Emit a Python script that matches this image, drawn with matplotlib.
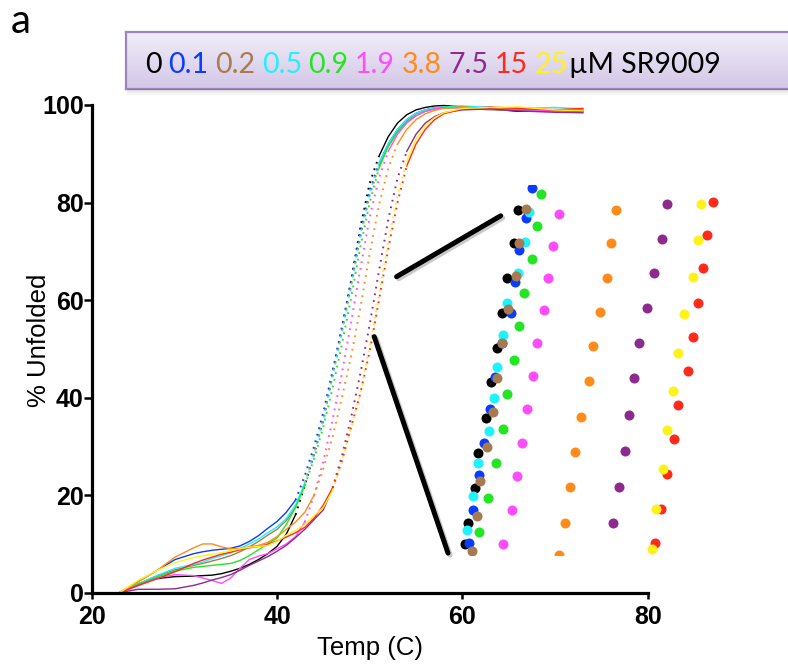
import numpy as np
import matplotlib
matplotlib.use("Agg")
from matplotlib import pyplot as plt
from matplotlib import patheffects
from matplotlib.colors import LinearSegmentedColormap
from matplotlib.patches import ConnectionPatch, Rectangle

# melt curves, % unfolded vs temperature (C)
temps = [23, 25, 27, 29, 31, 32, 33, 34, 35, 36, 37, 38, 39, 40, 41, 42, 43, 44, 45,
         46, 47, 48, 49, 50, 51, 52, 53, 54, 55, 56, 57, 58, 60, 63, 66, 70, 73]

black = [0, 1.8, 2.9, 3.3, 3.4, 3.5, 3.6, 3.9, 4.4, 5.0, 5.8, 6.8, 8.0, 9.5, 12, 16, 22, 28.5, 35.5,
         45, 54, 64, 75, 84, 89.5, 93.5, 96.3, 98, 99, 99.5, 99.8, 99.9, 99.6, 99.2, 98.7, 98.8, 98.6]
blue = [0, 2.3, 4.5, 6.8, 8.0, 8.4, 8.7, 8.9, 9.1, 9.6, 10.5, 11.7, 13.2, 14.6, 16.5, 19, 24, 30, 37,
        45.5, 54.5, 64, 74, 82.5, 88, 92, 95, 97, 98.3, 99, 99.4, 99.6, 99.7, 99.3, 99.0, 98.8, 98.9]
cyan = [0, 1.8, 3.5, 5.0, 5.8, 6.3, 7.0, 7.6, 8.2, 9.0, 10.0, 11.0, 12.3, 13.5, 15.2, 18, 22.5, 28.5, 35.5,
        44.5, 53.5, 63, 73.5, 82, 88, 92, 95, 97, 98.3, 99, 99.4, 99.6, 99.8, 99.5, 99.3, 99.5, 99.2]
brown = [0, 1.8, 3.4, 4.7, 5.6, 6.0, 6.5, 7.0, 7.6, 8.4, 9.4, 10.5, 11.8, 13.0, 14.8, 17.5, 22.5, 28.5, 35.5,
         44.5, 53.5, 63, 73, 81.5, 87.5, 91.5, 94.5, 96.8, 98.2, 99, 99.4, 99.5, 99.4, 99.0, 98.9, 99.1, 98.9]
green = [0, 1.7, 3.2, 4.4, 5.2, 5.4, 5.6, 5.8, 6.0, 6.6, 7.6, 8.8, 10.0, 11.2, 14, 17.5, 22, 27.5, 34,
         42, 51, 60.5, 71, 80, 87, 91.5, 94.5, 96.5, 97.8, 98.7, 99.2, 99.5, 99.6, 99.2, 98.9, 98.7, 98.5]
magenta = [0, 1.4, 3.0, 3.7, 3.5, 3.0, 2.5, 1.9, 3.0, 5.0, 6.8, 7.5, 8.0, 9.0, 10.0, 11.5, 14.5, 20, 27,
           35.5, 45, 55.5, 66.5, 77, 85, 90.5, 94, 96.3, 97.8, 98.7, 99.2, 99.4, 99.5, 99.3, 99.0, 98.8, 99.0]
orange = [0, 2.2, 4.5, 7.3, 9.2, 10.0, 10.0, 9.4, 9.0, 9.1, 9.4, 9.7, 10.3, 11.5, 13, 14.5, 16.5, 20, 25.5,
          32, 40, 48.5, 58.5, 69.5, 79.5, 87, 92, 95, 97, 98.2, 98.9, 99.3, 99.6, 99.2, 99.5, 99.0, 99.2]
purple = [0, 0.7, 0.7, 0.8, 1.5, 2.0, 2.6, 3.1, 3.7, 4.6, 5.6, 6.5, 7.4, 8.5, 9.7, 11.3, 13, 15, 17,
          21.5, 28, 36, 45, 55, 66, 76.5, 85, 90.5, 94, 96.3, 97.6, 98.4, 99.0, 99.2, 98.8, 98.5, 98.4]
red = [0, 1.5, 2.8, 4.3, 6.0, 6.7, 7.3, 7.9, 8.3, 8.8, 9.2, 9.5, 9.9, 10.6, 11.4, 12.3, 13.4, 15.3, 18,
       21.5, 27, 34, 41, 49.5, 60, 70.5, 80, 87.5, 92, 95, 97, 98.2, 99.2, 99.6, 99.3, 99.0, 99.3]
yellow = [0, 2.5, 4.5, 6.2, 7.2, 7.6, 7.9, 8.2, 8.6, 9.0, 9.3, 9.5, 9.7, 10.5, 11.8, 12.8, 14.0, 15.8, 17.5,
          21, 27, 34, 41, 50.5, 61, 72, 81.5, 88.5, 93, 95.8, 97.4, 98.4, 99.3, 99.5, 99.6, 99.0, 98.8]

# raw readings around the midpoint, shown enlarged in the inset
black_dots_t = [47.24, 47.16, 47.01, 46.93, 46.82, 46.70, 46.61, 46.46, 46.39, 46.25, 46.20]
black_dots_v = [56.19, 55.11, 53.97, 52.86, 51.70, 50.59, 49.45, 48.31, 47.15, 46.02, 45.34]
blue_dots_t = [47.50, 47.39, 47.26, 47.18, 47.09, 46.92, 46.78, 46.69, 46.56, 46.48, 46.36, 46.28]
blue_dots_v = [56.89, 55.92, 54.89, 53.86, 52.83, 51.86, 50.78, 49.72, 48.61, 47.58, 46.45, 45.39]
cyan_dots_t = [47.46, 47.37, 47.24, 47.01, 46.95, 46.83, 46.76, 46.67, 46.46, 46.35, 46.24]
cyan_dots_v = [56.11, 55.16, 54.15, 53.16, 52.13, 51.10, 50.07, 49.02, 47.96, 46.90, 45.80]
brown_dots_t = [47.39, 47.26, 47.20, 47.03, 46.93, 46.83, 46.74, 46.62, 46.49, 46.44, 46.33]
brown_dots_v = [56.21, 55.13, 54.05, 52.96, 51.86, 50.74, 49.64, 48.50, 47.39, 46.26, 45.13]
green_dots_t = [47.69, 47.60, 47.50, 47.36, 47.26, 47.16, 47.01, 46.95, 46.80, 46.65, 46.48]
green_dots_v = [56.71, 55.67, 54.59, 53.50, 52.42, 51.32, 50.20, 49.07, 47.96, 46.83, 45.72]
magenta_dots_t = [48.03, 47.92, 47.83, 47.75, 47.60, 47.52, 47.41, 47.32, 47.22, 47.11, 46.95]
magenta_dots_v = [56.05, 55.02, 53.99, 52.94, 51.88, 50.80, 49.72, 48.63, 47.55, 46.45, 45.34]
orange_dots_t = [49.16, 49.05, 48.99, 48.84, 48.71, 48.63, 48.47, 48.35, 48.25, 48.16, 48.03]
orange_dots_v = [56.19, 55.11, 53.99, 52.89, 51.77, 50.64, 49.47, 48.34, 47.18, 46.04, 44.99]
purple_dots_t = [50.16, 50.05, 49.90, 49.76, 49.61, 49.51, 49.41, 49.33, 49.22, 49.10]
purple_dots_v = [56.37, 55.26, 54.15, 53.02, 51.86, 50.72, 49.53, 48.36, 47.21, 46.02]
red_dots_t = [51.05, 50.95, 50.86, 50.77, 50.67, 50.56, 50.38, 50.29, 50.16, 50.03, 49.92]
red_dots_v = [56.46, 55.38, 54.29, 53.18, 52.08, 50.96, 49.86, 48.74, 47.61, 46.48, 45.39]
yellow_dots_t = [50.82, 50.77, 50.67, 50.49, 50.38, 50.28, 50.16, 50.07, 49.94, 49.86]
yellow_dots_v = [56.37, 55.21, 54.02, 52.80, 51.56, 50.31, 49.05, 47.77, 46.47, 45.17]

concentrations = ["0", "0.1", "0.2", "0.5", "0.9", "1.9", "3.8", "7.5", "15", "25"]
colors = ["#000000", "#0a3cff", "#a87b4f", "#1ef2ff", "#22e622",
          "#ff4cff", "#ff8c1a", "#8e2a8e", "#ff2a1a", "#fff21a"]

curves = [black, blue, brown, cyan, green, magenta, orange, purple, red, yellow]
dots = [(black_dots_t, black_dots_v), (blue_dots_t, blue_dots_v), (brown_dots_t, brown_dots_v),
        (cyan_dots_t, cyan_dots_v), (green_dots_t, green_dots_v), (magenta_dots_t, magenta_dots_v),
        (orange_dots_t, orange_dots_v), (purple_dots_t, purple_dots_v), (red_dots_t, red_dots_v),
        (yellow_dots_t, yellow_dots_v)]
dot_order = [0, 1, 3, 2, 4, 5, 6, 7, 8, 9]

TICK_FONT = dict(family="Liberation Sans", weight="bold", size=18)
LABEL_FONT = dict(family="Liberation Sans", size=18.5)
KEY_FAMILY = ["Lato", "DejaVu Sans"]


def draw_melt(ax, t, v, color):
    """Solid where the curve is flat, dotted through the steep transition."""
    t = np.asarray(t, float)
    v = np.asarray(v, float)
    steep = np.diff(v) / np.diff(t) >= 5
    near = np.zeros(len(v), bool)
    near[:-1] |= steep
    near[1:] |= steep
    inner = np.zeros(len(v), bool)
    inner[1:-1] = steep[:-1] & steep[1:]
    ax.plot(t, np.where(inner, np.nan, v), color=color, lw=1.0, clip_on=False)
    ax.plot(t, np.where(near, v, np.nan), color=color, lw=1.4, ls=(0, (0.9, 2.6)), clip_on=False)


fig = plt.figure(figsize=(7.88, 6.68), dpi=100)
W, H = 788, 668


def fx(px):
    return px / W


def fy(px):
    return (H - px) / H


ax = fig.add_axes([fx(91.7), fy(592.7), fx(647.7) - fx(91.7), fy(105) - fy(592.7)])
for c, col in zip(curves, colors):
    draw_melt(ax, temps, c, col)

ax.set_xlim(20, 80)
ax.set_ylim(0, 100)
ax.set_xticks([20, 40, 60, 80])
ax.set_yticks([0, 20, 40, 60, 80, 100])
for s in ["top", "right"]:
    ax.spines[s].set_visible(False)
for s in ["left", "bottom"]:
    ax.spines[s].set_linewidth(2.3)
ax.tick_params(axis="y", direction="out", length=5.5, width=1.8, pad=0.3)
ax.tick_params(axis="x", direction="out", length=4.5, width=1.8, pad=4.5)
for lab in ax.get_xticklabels() + ax.get_yticklabels():
    lab.set_fontproperties(matplotlib.font_manager.FontProperties(**TICK_FONT))
ax.set_xlabel("Temp (C)", **LABEL_FONT)
ax.set_ylabel("% Unfolded", **LABEL_FONT)
ax.xaxis.set_label_coords(0.5, -0.088)
ax.yaxis.set_label_coords(-0.073, 0.518)

# enlarged view of the transition
ax_in = fig.add_axes([fx(455), fy(555), fx(725) - fx(455), fy(185) - fy(555)])
ax_in.set_xlim(46, 51.294)
ax_in.set_ylim(44.987, 57)
ax_in.axis("off")
ax_in.patch.set_alpha(0)
for i in dot_order:
    t, v = dots[i]
    ax_in.scatter(t, v, s=52, color=colors[i], linewidths=0)

shadow = [patheffects.SimpleLineShadow(offset=(1.5, -1.5), shadow_color="0.4", alpha=0.35),
          patheffects.Normal()]
for xa, xb in [((52.9, 64.8), (46.896, 56.0)), ((50.49, 52.5), (45.863, 45.05))]:
    con = ConnectionPatch(xyA=xa, coordsA=ax.transData, xyB=xb, coordsB=ax_in.transData,
                          color="black", lw=3.6)
    con.set_path_effects(shadow)
    fig.add_artist(con)

# concentration key
for k, a in enumerate([0.10, 0.07, 0.04]):
    fig.add_artist(Rectangle((fx(127), fy(89 + 2 * (k + 1))), 1, fy(89) - fy(91),
                             transform=fig.transFigure, color="black", alpha=a, lw=0))
ax_key = fig.add_axes([fx(125.5), fy(89), fx(800) - fx(125.5), fy(32.3) - fy(89)])
grad = LinearSegmentedColormap.from_list("key", ["#f1edf9", "#d3c7e6"])
ax_key.imshow(np.linspace(0, 1, 64).reshape(-1, 1), cmap=grad, aspect="auto",
              extent=[0, 1, 0, 1], origin="upper")
ax_key.set_xticks([])
ax_key.set_yticks([])
ax_key.set_xlim(0, 1)
ax_key.set_ylim(0, 1)
for s in ax_key.spines.values():
    s.set_color("#9b85bf")
    s.set_linewidth(1.6)

prev = fig.text(fx(145), fy(73.3), concentrations[0], color=colors[0], family=KEY_FAMILY,
                size=20.5, va="baseline")
for lab, col in zip(concentrations[1:], colors[1:]):
    prev = fig.add_artist(matplotlib.text.Annotation(
        lab, xy=(1, 0), xycoords=prev, xytext=(4.8, 0), textcoords="offset points",
        color=col, family=KEY_FAMILY, size=20.5, va="bottom", ha="left"))
fig.add_artist(matplotlib.text.Annotation(
    "\u00b5M SR9009", xy=(1, 0), xycoords=prev, xytext=(0.5, 0), textcoords="offset points",
    color="black", family=KEY_FAMILY, size=20.5, va="bottom", ha="left"))

fig.text(fx(11), fy(33), "a", family=KEY_FAMILY, size=29, va="baseline")

fig.savefig("out.png", dpi=100)
